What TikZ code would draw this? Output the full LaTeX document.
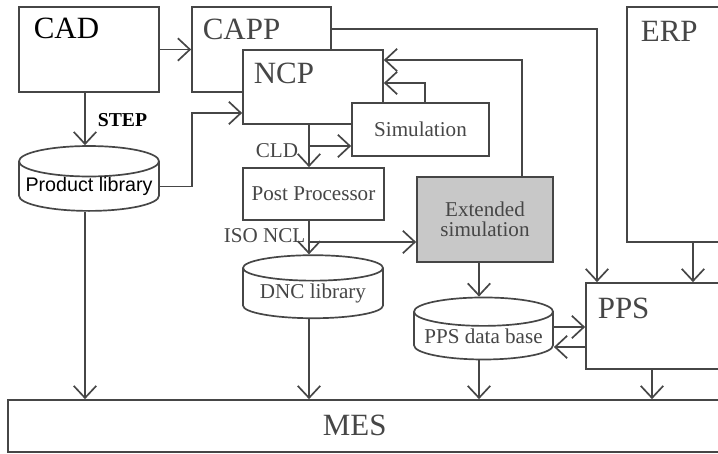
\documentclass[tikz,border=0pt]{standalone}
\usepackage{fontspec}
\setmainfont{Liberation Serif}
\newfontfamily\arialfont{Liberation Sans}
\usetikzlibrary{arrows.meta,shapes.geometric}
\definecolor{line_gray}{RGB}{70,70,70}
\definecolor{text_gray}{RGB}{70,70,70}
\definecolor{ext_fill}{RGB}{200,200,200}

\begin{document}
\begin{tikzpicture}[x=0.025cm,y=-0.025cm,line width=1.2pt,>={Straight Barb[length=0.3cm,width=0.56cm]}]
    \tikzstyle{box}=[draw=line_gray, rectangle, fill=white, inner sep=0pt, text=text_gray, font=\fontsize{15}{15}\selectfont]
    \tikzstyle{store}=[draw=line_gray, cylinder, shape border rotate=90, aspect=0.24, fill=white, inner sep=0pt, text=text_gray, font=\fontsize{15}{17}\selectfont]
    \tikzstyle{big}=[inner sep=0pt, anchor=base west, text=text_gray, font=\fontsize{22}{24}\selectfont]
    \tikzstyle{small}=[inner sep=0pt, anchor=base west, text=text_gray, font=\fontsize{15}{17}\selectfont]
    \tikzstyle{flow}=[->, line_gray]

    \useasboundingbox (0,0) rectangle (718,454);
    \clip (0,0) rectangle (718,454);

    \node[box, minimum width=3.5cm, minimum height=2.125cm] (cad) at (89,49.5) {};
    \node[box, minimum width=3.475cm, minimum height=2.125cm] (capp) at (261.5,49.5) {};
    \node[box, minimum width=3.5cm, minimum height=1.85cm] (ncp) at (313,87) {};
    \node[box, minimum width=3.425cm, minimum height=1.325cm] (sim) at (420.5,129.5) {Simulation};
    \node[box, minimum width=3.525cm, minimum height=1.3cm] (post) at (313.5,194) {Post Processor};
    \node[box, fill=ext_fill, align=center, minimum width=3.4cm, minimum height=2.125cm] (ext) at (485,219.5) {Extended\\[-1pt]simulation};
    \node[box, minimum width=3.825cm, minimum height=5.875cm] (erp) at (703.5,124.5) {};
    \node[box, minimum width=4.85cm, minimum height=2.15cm] (pps) at (683,326) {};
    \node[box, minimum width=19.3cm, minimum height=1.3cm] (mes) at (394,426) {};

    \node[store, text=black, font=\arialfont\fontsize{14}{16}\selectfont, minimum width=3.5cm, minimum height=1.575cm] (prodlib) at (89,186.5) {Product library};
    \node[store, minimum width=3.5cm, minimum height=1.575cm] (dnc) at (313,293.5) {DNC library};
    \node[store, minimum width=3.475cm, minimum height=1.55cm] (ppsdb) at (483.5,336) {PPS data base};

    \node[big, text=black] (cadtxt) at (33,38) {CAD};
    \node[big] (capptxt) at (202,39) {CAPP};
    \node[big] (ncptxt) at (253,83) {NCP};
    \node[big] (erptxt) at (640,41) {ERP};
    \node[big] (ppstxt) at (597,318) {PPS};
    \node[big] (mestxt) at (322,435) {MES};
    \node[small, text=black, font=\bfseries\fontsize{14}{16}\selectfont] (steptxt) at (97,126) {STEP};
    \node[small] (cldtxt) at (255,157) {CLD};
    \node[small] (isotxt) at (223,242) {ISO NCL};

    \coordinate (stepx) at (85,0);
    \coordinate (turnA) at (192,113);
    \coordinate (cappout) at (597,29);
    \coordinate (ncpout) at (309,146);
    \coordinate (simback) at (425,83);
    \coordinate (extback) at (522,60);
    \coordinate (isoout) at (309,242);
    \coordinate (dbx) at (479,0);
    \coordinate (erpx) at (693,0);
    \coordinate (ppsx) at (652,0);
    \coordinate (dbin) at (0,327);
    \coordinate (dbback) at (0,347);

    \draw[flow] (cad.east) -- (capp.west |- cad.east);
    \draw[flow] (cad.south -| stepx) -- (stepx |- prodlib.90);
    \draw[flow] (prodlib.0) -| (turnA) -- (ncp.west |- turnA);
    \draw[flow] (prodlib.270 -| stepx) -- (stepx |- mes.north);
    \draw[flow] (capp.east |- cappout) -- (cappout) -- (cappout |- pps.north);
    \draw[flow] (ncpout |- ncp.south) -- (ncpout |- post.north);
    \draw[flow] (ncpout) -- (sim.west |- ncpout);
    \draw[flow] (simback |- sim.north) -- (simback) -- (ncp.east |- simback);
    \draw[flow] (extback |- ext.north) -- (extback) -- (ncp.east |- extback);
    \draw[flow] (isoout |- post.south) -- (isoout |- dnc.90);
    \draw[flow] (isoout) -- (ext.west |- isoout);
    \draw[flow] (dnc.270 -| isoout) -- (isoout |- mes.north);
    \draw[flow] (ext.south -| dbx) -- (dbx |- ppsdb.90);
    \draw[flow] (erp.south -| erpx) -- (erpx |- pps.north);
    \draw[flow] (ppsdb.0 |- dbin) -- (pps.west |- dbin);
    \draw[flow] (pps.west |- dbback) -- (ppsdb.0 |- dbback);
    \draw[flow] (ppsdb.270 -| dbx) -- (dbx |- mes.north);
    \draw[flow] (pps.south -| ppsx) -- (ppsx |- mes.north);
\end{tikzpicture}
\end{document}
